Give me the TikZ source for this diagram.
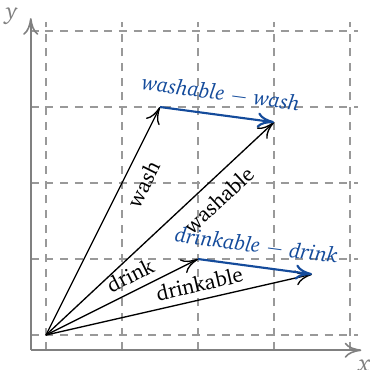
\documentclass[tikz,border=0pt]{standalone}
\usepackage[T1]{fontenc}
\usepackage{xcolor}
\renewcommand{\rmdefault}{bch}
\usetikzlibrary{arrows.meta, positioning, calc}
\definecolor{vecblue}{RGB}{20,75,155}

\begin{document}
\begin{tikzpicture}[x=1cm, y=1cm, >={To[length=2.2mm,width=2mm]},
    gridline/.style={gray!80, dashed, dash pattern=on 3pt off 2.5pt, line width=0.5pt},
    axis/.style={gray, line width=0.6pt, ->},
    axislbl/.style={text=gray, font=\small\itshape, inner sep=0pt},
    vec/.style={->, line width=0.5pt},
    diffvec/.style={->, vecblue, line width=0.8pt},
    lbl/.style={sloped, font=\footnotesize, inner sep=0pt},
    difflbl/.style={sloped, font=\footnotesize\itshape, text=vecblue, inner sep=0pt}]
    \useasboundingbox (-0.605,-0.46) rectangle (4.263,4.408);
    % grid
    \foreach \i in {0,...,4} {
        \draw[gridline] (\i,-0.2) -- (\i,4.12);
        \draw[gridline] (-0.2,\i) -- (4.1,\i);
    }
    % axes
    \coordinate (corner) at (-0.2,-0.2);
    \coordinate (xtip) at (4.15,-0.2);
    \coordinate (ytip) at (-0.2,4.17);
    \draw[axis] (corner) -- (xtip);
    \draw[axis] (corner) -- (ytip);
    \node[axislbl] (xlbl) at ($(xtip)+(0.04,-0.21)$) {x};
    \node[axislbl] (ylbl) at ($(ytip)+(-0.25,0.03)$) {y};
    % vectors
    \coordinate (o) at (0,0);
    \coordinate (wash) at (1.5,3);
    \coordinate (washable) at (3,2.8);
    \coordinate (drink) at (2,1);
    \coordinate (drinkable) at (3.5,0.8);
    \draw[vec] (o) -- node[lbl, below=4pt, pos=0.7] {wash} (wash);
    \draw[vec] (o) -- node[lbl, below=3.8pt, pos=0.7] {washable} (washable);
    \draw[vec] (o) -- node[lbl, above=2.7pt, pos=0.6] {drink} (drink);
    \draw[vec] (o) -- node[lbl, above=2.7pt, pos=0.59] {drinkable} (drinkable);
    \draw[diffvec] (wash) -- node[difflbl, above=4.2pt, pos=0.51] {washable $-$ wash} (washable);
    \draw[diffvec] (drink) -- node[difflbl, above=4pt, pos=0.49] {drinkable $-$ drink} (drinkable);
\end{tikzpicture}
\end{document}
